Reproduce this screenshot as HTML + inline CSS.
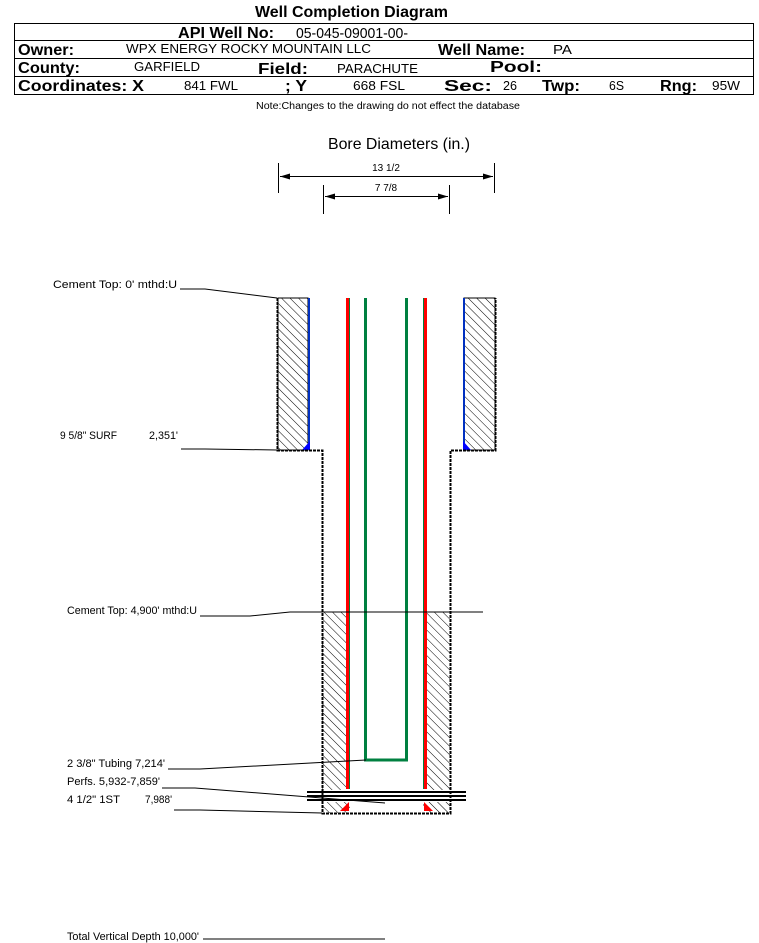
<!DOCTYPE html>
<html><head><style>
body{margin:0;background:#fff;}
svg{display:block;font-family:"Liberation Sans",Arial,sans-serif;}
</style></head><body>
<svg width="759" height="943" viewBox="0 0 759 943" xmlns="http://www.w3.org/2000/svg">
<defs>
<pattern id="h" patternUnits="userSpaceOnUse" width="6" height="6" patternTransform="rotate(-45)">
<line x1="0" y1="0" x2="0" y2="6" stroke="#000" stroke-width="1"/>
</pattern>
<marker id="a" markerWidth="10" markerHeight="6" refX="10" refY="3" orient="auto"><path d="M0,0 L10,3 L0,6 z" fill="#000"/></marker>
<marker id="b" markerWidth="10" markerHeight="6" refX="0" refY="3" orient="auto"><path d="M10,0 L0,3 L10,6 z" fill="#000"/></marker>
</defs>
<text x="255" y="17" font-size="16" font-weight="bold" textLength="193" lengthAdjust="spacingAndGlyphs">Well Completion Diagram</text>
<rect x="14.5" y="23.5" width="739" height="71" fill="none" stroke="#000"/>
<line x1="14" y1="40.5" x2="754" y2="40.5" stroke="#000"/>
<line x1="14" y1="58.5" x2="754" y2="58.5" stroke="#000"/>
<line x1="14" y1="76.5" x2="754" y2="76.5" stroke="#000"/>
<g font-size="16" font-weight="bold" lengthAdjust="spacingAndGlyphs">
<text x="178" y="38" textLength="96" lengthAdjust="spacingAndGlyphs">API Well No:</text>
<text x="18" y="55" textLength="56" lengthAdjust="spacingAndGlyphs">Owner:</text>
<text x="438" y="55" textLength="87" lengthAdjust="spacingAndGlyphs">Well Name:</text>
<text x="18" y="73" textLength="62" lengthAdjust="spacingAndGlyphs">County:</text>
<text x="258" y="74" textLength="50" lengthAdjust="spacingAndGlyphs">Field:</text>
<text x="490" y="72" textLength="52" lengthAdjust="spacingAndGlyphs">Pool:</text>
<text x="18" y="91" textLength="126" lengthAdjust="spacingAndGlyphs">Coordinates: X</text>
<text x="285" y="91" textLength="22" lengthAdjust="spacingAndGlyphs">; Y</text>
<text x="444" y="91" textLength="48" lengthAdjust="spacingAndGlyphs">Sec:</text>
<text x="542" y="91" textLength="38" lengthAdjust="spacingAndGlyphs">Twp:</text>
<text x="660" y="91" textLength="37" lengthAdjust="spacingAndGlyphs">Rng:</text>
</g>
<g font-size="13">
<text x="296" y="38" font-size="15" textLength="112" lengthAdjust="spacingAndGlyphs">05-045-09001-00-</text>
<text x="126" y="53" textLength="245" lengthAdjust="spacingAndGlyphs">WPX ENERGY ROCKY MOUNTAIN LLC</text>
<text x="553" y="54" textLength="19" lengthAdjust="spacingAndGlyphs">PA</text>
<text x="134" y="71" textLength="66" lengthAdjust="spacingAndGlyphs">GARFIELD</text>
<text x="337" y="73" textLength="81" lengthAdjust="spacingAndGlyphs">PARACHUTE</text>
<text x="184" y="90" textLength="54" lengthAdjust="spacingAndGlyphs">841 FWL</text>
<text x="353" y="90" textLength="52" lengthAdjust="spacingAndGlyphs">668 FSL</text>
<text x="503" y="90" textLength="14" lengthAdjust="spacingAndGlyphs">26</text>
<text x="609" y="90" textLength="15" lengthAdjust="spacingAndGlyphs">6S</text>
<text x="712" y="90" textLength="28" lengthAdjust="spacingAndGlyphs">95W</text>
</g>
<text x="256" y="109" font-size="10" textLength="264" lengthAdjust="spacingAndGlyphs">Note:Changes to the drawing do not effect the database</text>
<text x="328" y="149" font-size="16" textLength="142" lengthAdjust="spacingAndGlyphs">Bore Diameters (in.)</text>
<text x="386" y="171" font-size="10" text-anchor="middle">13 1/2</text>
<text x="386" y="191" font-size="10" text-anchor="middle">7 7/8</text>
<g stroke="#000" stroke-width="1">
<line x1="278.5" y1="163" x2="278.5" y2="193"/><line x1="494.5" y1="163" x2="494.5" y2="193"/>
<line x1="280" y1="176.5" x2="493" y2="176.5" marker-end="url(#a)" marker-start="url(#b)"/>
<line x1="323.5" y1="185" x2="323.5" y2="214"/><line x1="449.5" y1="185" x2="449.5" y2="214"/>
<line x1="325" y1="196.5" x2="448" y2="196.5" marker-end="url(#a)" marker-start="url(#b)"/>
</g>
<rect x="278" y="298" width="30" height="152" fill="url(#h)" stroke="#000"/>
<rect x="464" y="298" width="31" height="152" fill="url(#h)" stroke="#000"/>
<rect x="322" y="612" width="25" height="178" fill="url(#h)"/>
<rect x="426" y="612" width="24" height="178" fill="url(#h)"/>
<rect x="322" y="802" width="128" height="11" fill="url(#h)"/>
<rect x="350" y="802" width="73" height="11" fill="#fff"/>
<rect x="308" y="298" width="2" height="152" fill="#0030c0"/>
<rect x="463" y="298" width="2" height="152" fill="#0030c0"/>
<path d="M302,450 L310,441 L310,450z" fill="#00f"/><path d="M463,441 L471,450 L463,450z" fill="#00f"/>
<rect x="346" y="298" width="4" height="491" fill="#008040"/>
<rect x="346" y="298" width="3" height="491" fill="#f00"/>
<rect x="423" y="298" width="4" height="491" fill="#008040"/>
<rect x="424" y="298" width="3" height="491" fill="#f00"/>
<path d="M340,811 L349,802 L349,811z" fill="#f00"/><path d="M424,802 L433,811 L424,811z" fill="#f00"/>
<path d="M365.5,298 V760 H406.5 V298" fill="none" stroke="#008040" stroke-width="3"/>
<path d="M277.5,298 V450.5 H322.5 V813.5 H450.5 V450.5 H495.5 V298" fill="none" stroke="#000" stroke-width="2" stroke-dasharray="3,1"/>
<g stroke="#000" stroke-width="2">
<line x1="307" y1="792" x2="466" y2="792"/><line x1="307" y1="796" x2="466" y2="796"/><line x1="307" y1="800" x2="466" y2="800"/>
</g>
<g stroke="#000" stroke-width="1" fill="none">
<path d="M180,289 H205 L277,298"/>
<path d="M181,449 H205 L277,450"/>
<path d="M200,616 H250 L290,612 H483"/>
<path d="M168,769 H200 L366,760"/>
<path d="M162,788 H195 L385,803"/>
<path d="M174,810 H200 L322,813"/>
<path d="M203,939 H385"/>
</g>
<g font-size="11">
<text x="53" y="288" textLength="124" lengthAdjust="spacingAndGlyphs">Cement Top: 0' mthd:U</text>
<text x="60" y="439" textLength="57" lengthAdjust="spacingAndGlyphs">9 5/8" SURF</text>
<text x="149" y="439" textLength="29" lengthAdjust="spacingAndGlyphs">2,351'</text>
<text x="67" y="614" textLength="130" lengthAdjust="spacingAndGlyphs">Cement Top: 4,900' mthd:U</text>
<text x="67" y="767" textLength="98" lengthAdjust="spacingAndGlyphs">2 3/8" Tubing 7,214'</text>
<text x="67" y="785" textLength="93" lengthAdjust="spacingAndGlyphs">Perfs. 5,932-7,859'</text>
<text x="67" y="803" textLength="53" lengthAdjust="spacingAndGlyphs">4 1/2" 1ST</text>
<text x="145" y="803" textLength="27" lengthAdjust="spacingAndGlyphs">7,988'</text>
<text x="67" y="940" textLength="132" lengthAdjust="spacingAndGlyphs">Total Vertical Depth 10,000'</text>
</g>
</svg>
</body></html>
